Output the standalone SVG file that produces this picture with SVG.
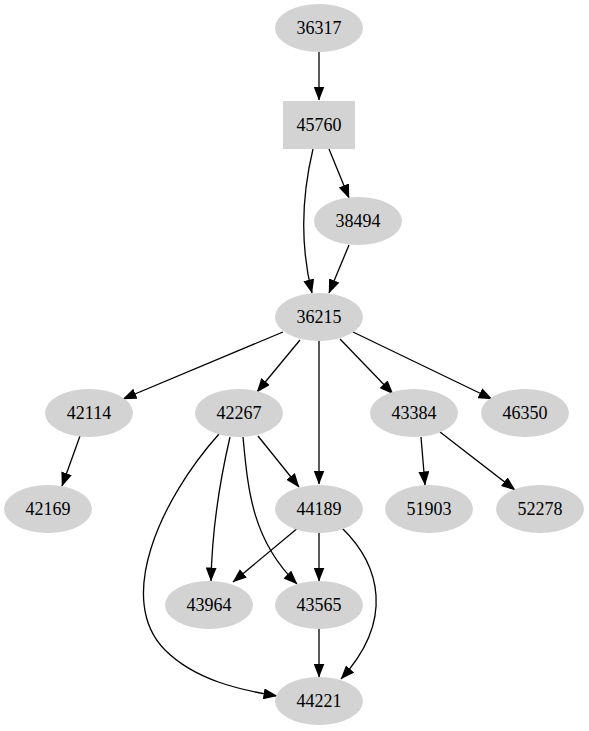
<svg xmlns="http://www.w3.org/2000/svg" width="589" height="731" viewBox="0 0 589 731">
<style>
.n ellipse, .n rect { fill: #d3d3d3; stroke: none; }
.n text { font-family: 'Liberation Serif', 'Times New Roman', Times, serif; font-size: 18px; fill: #000; text-anchor: middle; }
#edges path { fill: none; stroke: #000; stroke-width: 1.3; marker-end: url(#ah); }
</style>
<defs>
<marker id="ah" markerUnits="userSpaceOnUse" markerWidth="14" markerHeight="11" refX="13.5" refY="5.5" orient="auto">
<path d="M0,0 L14,5.5 L0,11 z" fill="#000"/>
</marker>
</defs>
<rect width="589" height="731" fill="#fff"/>
<g id="edges">
<path d="M319,52 L319,100"/>
<path d="M313,149 C302,195 300,245 312,293"/>
<path d="M329,149 L349,198"/>
<path d="M349,245 L329,293"/>
<path d="M283,332 L123,399"/>
<path d="M300,340 L257,392"/>
<path d="M319,341 L319,484"/>
<path d="M340,339 L393,394"/>
<path d="M353,332 L492,399"/>
<path d="M80,436 L62,486"/>
<path d="M258,436 L299,487"/>
<path d="M230,437 C220,480 212,530 211,581"/>
<path d="M243,437 C248,490 252,540 297,584"/>
<path d="M219,434 C160,500 115,600 165,650 C195,680 240,690 277,696"/>
<path d="M342,528 C380,565 395,620 341,679"/>
<path d="M299,527 L233,582"/>
<path d="M319,533 L319,581"/>
<path d="M319,629 L319,677"/>
<path d="M421,437 L425,485"/>
<path d="M440,432 L515,490"/>
</g>
<g id="n36317" class="n"><ellipse cx="319" cy="28" rx="44" ry="24"/><text x="319" y="34">36317</text></g>
<g id="n45760" class="n"><rect x="283" y="101" width="72" height="48"/><text x="319" y="131">45760</text></g>
<g id="n38494" class="n"><ellipse cx="358" cy="221" rx="44" ry="24"/><text x="358" y="227">38494</text></g>
<g id="n36215" class="n"><ellipse cx="319" cy="317" rx="44" ry="24"/><text x="319" y="323">36215</text></g>
<g id="n42114" class="n"><ellipse cx="89" cy="413" rx="44" ry="24"/><text x="89" y="419">42114</text></g>
<g id="n42267" class="n"><ellipse cx="239" cy="413" rx="44" ry="24"/><text x="239" y="419">42267</text></g>
<g id="n43384" class="n"><ellipse cx="414" cy="413" rx="44" ry="24"/><text x="414" y="419">43384</text></g>
<g id="n46350" class="n"><ellipse cx="525" cy="413" rx="44" ry="24"/><text x="525" y="419">46350</text></g>
<g id="n42169" class="n"><ellipse cx="48" cy="509" rx="44" ry="24"/><text x="48" y="515">42169</text></g>
<g id="n44189" class="n"><ellipse cx="319" cy="509" rx="44" ry="24"/><text x="319" y="515">44189</text></g>
<g id="n51903" class="n"><ellipse cx="429" cy="509" rx="44" ry="24"/><text x="429" y="515">51903</text></g>
<g id="n52278" class="n"><ellipse cx="540" cy="509" rx="44" ry="24"/><text x="540" y="515">52278</text></g>
<g id="n43964" class="n"><ellipse cx="209" cy="605" rx="44" ry="24"/><text x="209" y="611">43964</text></g>
<g id="n43565" class="n"><ellipse cx="319" cy="605" rx="44" ry="24"/><text x="319" y="611">43565</text></g>
<g id="n44221" class="n"><ellipse cx="319" cy="701" rx="44" ry="24"/><text x="319" y="707">44221</text></g>
</svg>
